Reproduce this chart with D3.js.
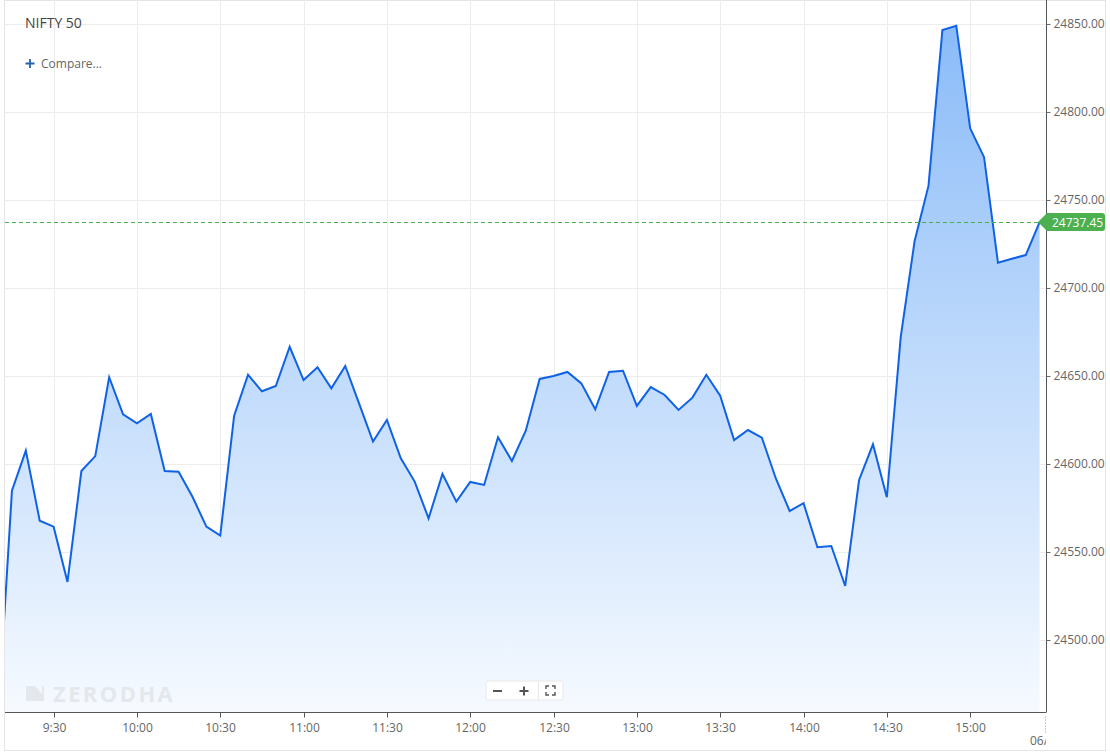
<!DOCTYPE html>
<html><head><meta charset="utf-8">
<script src="https://cdn.jsdelivr.net/npm/d3@7"></script>
<style>
html,body{margin:0;padding:0;background:#fff;overflow:hidden;}
svg{display:block;font-family:"Open Sans",sans-serif;}
</style></head><body>
<svg id="chart" width="1110" height="754"></svg>
<script>
// ---- data ----
const title = "NIFTY 50";
const compareLabel = "Compare...";
const times = ["09:10","09:15","09:20","09:25","09:30","09:35","09:40","09:45","09:50","09:55",
  "10:00","10:05","10:10","10:15","10:20","10:25","10:30","10:35","10:40","10:45","10:50","10:55",
  "11:00","11:05","11:10","11:15","11:20","11:25","11:30","11:35","11:40","11:45","11:50","11:55",
  "12:00","12:05","12:10","12:15","12:20","12:25","12:30","12:35","12:40","12:45","12:50","12:55",
  "13:00","13:05","13:10","13:15","13:20","13:25","13:30","13:35","13:40","13:45","13:50","13:55",
  "14:00","14:05","14:10","14:15","14:20","14:25","14:30","14:35","14:40","14:45","14:50","14:55",
  "15:00","15:05","15:10","15:15","15:20","15:25"];
const prices = [24455.0,24584.8,24607.6,24567.8,24564.4,24533.0,24596.0,24604.5,24649.3,24628.2,
  24623.1,24628.4,24596.0,24595.6,24581.4,24564.4,24559.3,24627.4,24650.7,24641.3,24644.3,24666.6,
  24647.7,24655.0,24643.0,24655.7,24634.3,24612.7,24625.0,24603.2,24590.0,24569.1,24594.3,24578.6,
  24589.8,24588.1,24615.2,24601.7,24618.9,24648.3,24650.0,24652.3,24645.8,24631.1,24652.3,24653.0,
  24633.0,24643.7,24639.2,24630.7,24637.7,24650.7,24638.8,24613.6,24619.3,24615.0,24591.9,24573.3,
  24577.7,24552.7,24553.4,24530.7,24590.9,24611.2,24581.1,24672.2,24726.7,24758.1,24846.6,24849.0,
  24790.7,24774.3,24714.4,24716.6,24718.7,24737.45];
const yTickValues = [24500,24550,24600,24650,24700,24750,24800,24850];
const xTickTimes = ["09:30","10:00","10:30","11:00","11:30","12:00","12:30","13:00","13:30","14:00","14:30","15:00"];
const xTickLabels = ["9:30","10:00","10:30","11:00","11:30","12:00","12:30","13:00","13:30","14:00","14:30","15:00"];
const dateLabel = "06/";
const lastPrice = 24737.45;
const watermark = "ZERODHA";

// ---- layout ----
const plot = {left: 5, right: 1046, top: 0, bottom: 712};
const toMin = s => { const [h, m] = s.split(":").map(Number); return h * 60 + m; };

const x = d3.scaleLinear().domain([552.5, 927.3]).range([plot.left, plot.right]);
const y = d3.scaleLinear().domain([24459.1, 24863.6]).range([plot.bottom, plot.top]);

const data = times.map((t, i) => ({t: toMin(t), v: prices[i]}));

const svg = d3.select("#chart");
const defs = svg.append("defs");
defs.append("clipPath").attr("id", "clip").append("rect")
  .attr("x", plot.left).attr("y", plot.top)
  .attr("width", plot.right - plot.left).attr("height", plot.bottom - plot.top);
const grad = defs.append("linearGradient").attr("id", "fillGrad")
  .attr("gradientUnits", "userSpaceOnUse")
  .attr("x1", 0).attr("x2", 0).attr("y1", y(24850)).attr("y2", plot.bottom);
grad.append("stop").attr("offset", "0%").attr("stop-color", "rgb(138,187,248)");
grad.append("stop").attr("offset", "100%").attr("stop-color", "rgb(246,250,255)");

// outer border
svg.append("rect").attr("x", 4.5).attr("y", 0.5).attr("width", 1101).attr("height", 750)
  .attr("fill", "none").attr("stroke", "#e4e4e4");

// grid
const grid = svg.append("g");
grid.selectAll(".hg").data(yTickValues).join("line")
  .attr("x1", plot.left).attr("x2", plot.right)
  .attr("y1", d => Math.round(y(d)) + 0.5).attr("y2", d => Math.round(y(d)) + 0.5)
  .attr("stroke", "#ececec");
grid.selectAll(".vg").data(xTickTimes).join("line")
  .attr("x1", d => Math.round(x(toMin(d))) + 0.5).attr("x2", d => Math.round(x(toMin(d))) + 0.5)
  .attr("y1", plot.top).attr("y2", plot.bottom)
  .attr("stroke", "#ececec");

// area
svg.append("g").attr("clip-path", "url(#clip)")
  .append("path").datum(data)
  .attr("d", d3.area().x(d => x(d.t)).y0(plot.bottom).y1(d => y(d.v)))
  .attr("fill", "url(#fillGrad)");

// watermark (over the fill)
const wm = svg.append("g").attr("fill", "#e4e7eb");
wm.append("path").attr("d", "M26,686 L35,686 L42,694 L42,686 L44,686 L44,701 L26,701 Z");
wm.append("text").attr("x", 53).attr("y", 702).attr("font-size", 22).attr("font-weight", 700)
  .attr("letter-spacing", "2.4px").text(watermark);

// line
svg.append("g").attr("clip-path", "url(#clip)")
  .append("path").datum(data)
  .attr("d", d3.line().x(d => x(d.t)).y(d => y(d.v)))
  .attr("fill", "none").attr("stroke", "#0f62e6").attr("stroke-width", 2)
  .attr("stroke-linejoin", "miter");

// last price dashed line
svg.append("line")
  .attr("x1", plot.left).attr("x2", x(data[data.length - 1].t))
  .attr("y1", Math.round(y(lastPrice)) + 0.5).attr("y2", Math.round(y(lastPrice)) + 0.5)
  .attr("stroke", "#4caf50").attr("stroke-width", 1).attr("stroke-dasharray", "4,3");

// right axis
const yAxis = d3.axisRight(y).tickValues(yTickValues).tickSize(4).tickPadding(3)
  .tickFormat(d3.format(".2f"));
const ya = svg.append("g").attr("transform", `translate(${plot.right + 0.5},0)`).call(yAxis);
ya.select(".domain").attr("stroke", "#555").attr("d", `M0,${plot.top}V${plot.bottom}`);
ya.selectAll(".tick line").attr("stroke", "#666");
ya.selectAll(".tick text").attr("fill", "#666").attr("font-size", 12)
  .attr("font-family", "Open Sans, sans-serif");

// bottom axis
const xa = svg.append("g").attr("transform", `translate(0,${plot.bottom + 0.5})`);
xa.append("line").attr("x1", plot.left).attr("x2", plot.right + 0.5)
  .attr("stroke", "#555");
const xt = xa.selectAll(".xt").data(xTickTimes).join("g")
  .attr("transform", d => `translate(${Math.round(x(toMin(d))) + 0.5},0)`);
xt.append("line").attr("y1", 0).attr("y2", 5).attr("stroke", "#555");
xt.append("text").attr("y", 19).attr("text-anchor", "middle").attr("font-size", 12)
  .attr("fill", "#666").text((d, i) => xTickLabels[i]);
// end-of-day dotted tick and clipped date label
xa.append("line").attr("x1", plot.right - 0.5).attr("x2", plot.right - 0.5).attr("y1", 4).attr("y2", 20)
  .attr("stroke", "#999").attr("stroke-dasharray", "1,2");
defs.append("clipPath").attr("id", "dclip").append("rect")
  .attr("x", 1000).attr("y", 715).attr("width", plot.right - 1000).attr("height", 35);
svg.append("text").attr("clip-path", "url(#dclip)").attr("x", 1030).attr("y", 745)
  .attr("font-size", 12).attr("fill", "#666").text(dateLabel + "11");

// last price label
const ly = y(lastPrice);
const lab = svg.append("g");
lab.append("path")
  .attr("d", `M1038,${ly} L1047,${ly - 9} L1102,${ly - 9} Q1105,${ly - 9} 1105,${ly - 6} L1105,${ly + 6} Q1105,${ly + 9} 1102,${ly + 9} L1047,${ly + 9} Z`)
  .attr("fill", "#4caf50");
lab.append("text").attr("x", 1052).attr("y", ly + 4.5).attr("font-size", 12).attr("fill", "#fff")
  .text(d3.format(".2f")(lastPrice));

// title & compare
svg.append("text").attr("x", 25).attr("y", 28).attr("font-size", 14).attr("fill", "#444").text(title);
const cmp = svg.append("g");
cmp.append("path").attr("d", "M25.5,63.5 h9 M30,59 v9").attr("stroke", "#2563b0").attr("stroke-width", 1.8);
cmp.append("text").attr("x", 41).attr("y", 68).attr("font-size", 12).attr("fill", "#666").text(compareLabel);

// zoom controls
const zc = svg.append("g");
zc.append("rect").attr("x", 486).attr("y", 681).attr("width", 77).attr("height", 19).attr("rx", 2)
  .attr("fill", "#fff").attr("stroke", "#e8e8e8");
zc.append("line").attr("x1", 538.5).attr("x2", 538.5).attr("y1", 682).attr("y2", 699).attr("stroke", "#e8e8e8");
zc.append("path").attr("d", "M493,691 h9").attr("stroke", "#555").attr("stroke-width", 2);
zc.append("path").attr("d", "M519.5,691 h9 M524,686.5 v9").attr("stroke", "#555").attr("stroke-width", 2);
zc.append("path").attr("d", "M546,689 v-3 h3 M552,686 h3 v3 M555,692 v3 h-3 M549,695 h-3 v-3")
  .attr("stroke", "#555").attr("stroke-width", 1.4).attr("fill", "none");
</script>
</body></html>
